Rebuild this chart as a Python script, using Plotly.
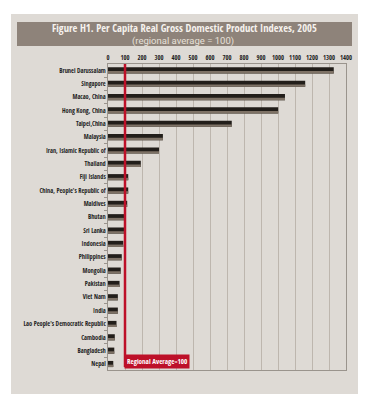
import plotly.graph_objects as go

countries = ["Brunei Darussalam", "Singapore", "Macao, China", "Hong Kong, China", "Taipei,China",
             "Malaysia", "Iran, Islamic Republic of", "Thailand", "Fiji Islands",
             "China, People's Republic of", "Maldives", "Bhutan", "Sri Lanka", "Indonesia",
             "Philippines", "Mongolia", "Pakistan", "Viet Nam", "India",
             "Lao People's Democratic Republic", "Cambodia", "Bangladesh", "Nepal"]
values = [1328, 1160, 1041, 1001, 728, 323, 300, 193, 119, 119, 113, 103, 97, 90, 81, 75, 68, 58, 58, 50, 40, 37, 31]
tick_vals = list(range(0, 1401, 100))
regional_average = 100

# page body has an 8px margin, so the figure is drawn 8px in from the window's corner
OFF = 8
W, H = 364, 397
ML, MR, MT, MB = 100, 26, 56, 35
PW, PH = W - ML - MR, H - MT - MB

def px(x):  # window pixel -> paper
    return (x - OFF - ML) / PW

def py(y):
    return (H - MB - (y - OFF)) / PH

FONT = "Liberation Sans Narrow, Open Sans Condensed, sans-serif"

fig = go.Figure()
fig.add_trace(go.Bar(y=countries, x=values, orientation="h", width=0.46, offset=-0.23,
                     marker=dict(color="#221e1a", line=dict(width=0)), hoverinfo="x+y"))
fig.add_trace(go.Bar(y=countries, x=values, orientation="h", width=0.18, offset=0.05,
                     marker=dict(color="#7e7266", line=dict(width=0)), hoverinfo="skip"))

shapes = [
    dict(type="rect", xref="paper", yref="paper", x0=px(11), x1=px(358), y0=py(394), y1=py(14),
         fillcolor="#dedad5", line=dict(width=0), layer="below"),
    dict(type="rect", xref="paper", yref="paper", x0=px(17), x1=px(352), y0=py(46), y1=py(22),
         fillcolor="#8e837a", line=dict(width=0), layer="below"),
    dict(type="line", xref="x", yref="paper", x0=regional_average, x1=regional_average,
         y0=py(367), y1=1, line=dict(color="#bd1029", width=2.5)),
]

annotations = [
    dict(text="<b>Figure H1. Per Capita Real Gross Domestic Product Indexes, 2005</b>",
         xref="paper", yref="paper", x=px(184), y=py(28.5), xanchor="center", yanchor="middle",
         showarrow=False, font=dict(family="Open Sans Condensed, Liberation Sans Narrow, sans-serif",
                                    size=10.5, color="#f6f2ee")),
    dict(text="(regional average = 100)",
         xref="paper", yref="paper", x=px(183), y=py(40.5), xanchor="center", yanchor="middle",
         showarrow=False, font=dict(family="Roboto, sans-serif", size=9.5, color="#e8e1d9")),
    dict(text="<b>Regional Average=100</b>", xref="x", yref="paper", x=regional_average,
         xanchor="left", y=py(361), yanchor="middle", showarrow=False, bgcolor="#bd1029",
         borderpad=2, xshift=-1, font=dict(family=FONT, size=7, color="white")),
]

fig.update_layout(
    width=W, height=H, margin=dict(l=ML, r=MR, t=MT, b=MB, autoexpand=False),
    paper_bgcolor="white", plot_bgcolor="#f3f0ec", barmode="overlay", showlegend=False,
    shapes=shapes, annotations=annotations,
    xaxis=dict(side="top", range=[0, 1400], tickvals=tick_vals, ticktext=[str(v) for v in tick_vals],
               showgrid=True, gridcolor="#bdb6ae", gridwidth=1, zeroline=False, automargin=False,
               showline=True, mirror=True, linecolor="#9a948d", linewidth=1,
               tickangle=0, tickfont=dict(family=FONT, size=6.5, color="#222", weight="bold"),
               ticks="", fixedrange=True),
    yaxis=dict(categoryorder="array", categoryarray=countries, range=[len(countries) - 0.55, -0.48],
               showline=True, mirror=True, linecolor="#9a948d", linewidth=1, ticks="outside", ticklen=3,
               tickcolor="#9a948d", tickson="boundaries", showgrid=False, automargin=False,
               tickfont=dict(family=FONT, size=6.3, color="#222", weight="bold"), fixedrange=True),
)

fig.write_html("out.html")
